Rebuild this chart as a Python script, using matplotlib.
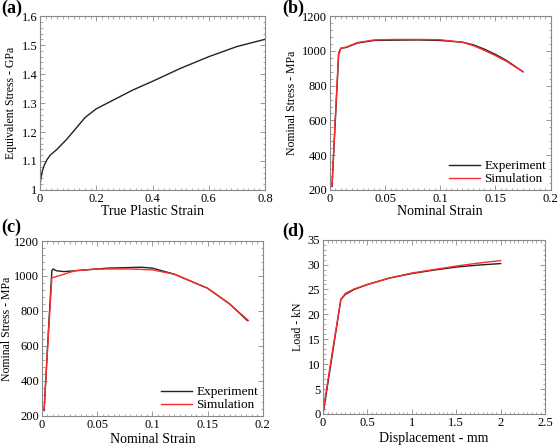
import matplotlib.pyplot as plt
from matplotlib.ticker import AutoMinorLocator

plt.rcParams['font.family'] = ['Liberation Serif', 'DejaVu Serif']

# (a) flow curve
a_strain = [0, 0.003, 0.008, 0.015, 0.025, 0.036, 0.06, 0.095, 0.13, 0.16, 0.2, 0.25, 0.33, 0.4, 0.5, 0.6, 0.7, 0.8]
a_stress = [1.015, 1.04, 1.065, 1.085, 1.105, 1.12, 1.14, 1.175, 1.215, 1.25, 1.28, 1.305, 1.345, 1.375, 1.42, 1.46, 1.495, 1.52]

# (b) nominal stress-strain
b_exp_x = [0.002, 0.005, 0.008, 0.01, 0.015, 0.025, 0.04, 0.06, 0.08, 0.1, 0.12, 0.13, 0.14, 0.15, 0.16, 0.175]
b_exp_y = [220, 600, 980, 1015, 1020, 1045, 1060, 1062, 1063, 1060, 1050, 1035, 1010, 980, 945, 880]
b_sim_x = [0.002, 0.005, 0.008, 0.01, 0.015, 0.025, 0.04, 0.06, 0.08, 0.1, 0.12, 0.13, 0.14, 0.15, 0.16, 0.175]
b_sim_y = [225, 620, 990, 1015, 1022, 1048, 1063, 1066, 1066, 1064, 1050, 1030, 1003, 973, 940, 880]

# (c) nominal stress-strain
c_exp_x = [0.002, 0.006, 0.009, 0.01, 0.013, 0.02, 0.03, 0.06, 0.09, 0.1, 0.12, 0.15, 0.17, 0.186]
c_exp_y = [230, 700, 1030, 1040, 1030, 1025, 1030, 1045, 1050, 1045, 1010, 930, 840, 745]
c_sim_x = [0.002, 0.006, 0.009, 0.015, 0.03, 0.05, 0.08, 0.1, 0.12, 0.15, 0.17, 0.187]
c_sim_y = [240, 680, 990, 1000, 1030, 1040, 1040, 1035, 1010, 930, 840, 745]

# (d) load-displacement
d_exp_x = [0, 0.1, 0.2, 0.25, 0.35, 0.5, 0.75, 1.0, 1.25, 1.5, 1.75, 2.0]
d_exp_y = [0, 11.5, 23, 24.0, 25.0, 26.0, 27.3, 28.2, 28.9, 29.5, 29.9, 30.2]
d_sim_x = [0, 0.1, 0.2, 0.25, 0.35, 0.5, 0.75, 1.0, 1.25, 1.5, 1.75, 2.0]
d_sim_y = [0.5, 12, 23, 24.2, 25.1, 26.0, 27.3, 28.3, 29.0, 29.7, 30.3, 30.8]

fig = plt.figure(figsize=(5.59, 4.48), dpi=100)
ax_a = fig.add_axes([0.0716, 0.576, 0.4025, 0.388])
ax_b = fig.add_axes([0.590, 0.576, 0.395, 0.388])
ax_c = fig.add_axes([0.075, 0.072, 0.395, 0.39])
ax_d = fig.add_axes([0.578, 0.076, 0.397, 0.389])

exp_c = '#222222'
sim_c = '#ff2a2a'

ax_a.plot(a_strain, a_stress, color=exp_c, lw=1)
ax_b.plot(b_exp_x, b_exp_y, color=exp_c, lw=1, label='Experiment')
ax_b.plot(b_sim_x, b_sim_y, color=sim_c, lw=1, label='Simulation')
ax_c.plot(c_exp_x, c_exp_y, color=exp_c, lw=1, label='Experiment')
ax_c.plot(c_sim_x, c_sim_y, color=sim_c, lw=1, label='Simulation')
ax_d.plot(d_exp_x, d_exp_y, color=exp_c, lw=1)
ax_d.plot(d_sim_x, d_sim_y, color=sim_c, lw=1)

ax_a.set_xlim(0, 0.8)
ax_a.set_ylim(1.0, 1.6)
ax_a.set_xticks([0, 0.2, 0.4, 0.6, 0.8], ['0', '0.2', '0.4', '0.6', '0.8'])
ax_a.set_yticks([1.0, 1.1, 1.2, 1.3, 1.4, 1.5, 1.6], ['1', '1.1', '1.2', '1.3', '1.4', '1.5', '1.6'])
ax_a.set_xlabel('True Plastic Strain')
ax_a.set_ylabel('Equivalent Stress - GPa')

for ax in (ax_b, ax_c):
    ax.set_xlim(0, 0.2)
    ax.set_ylim(200, 1200)
    ax.set_xticks([0, 0.05, 0.1, 0.15, 0.2], ['0', '0.05', '0.1', '0.15', '0.2'])
    ax.set_yticks([200, 400, 600, 800, 1000, 1200])
    ax.set_xlabel('Nominal Strain')
    ax.set_ylabel('Nominal Stress - MPa')
    ax.legend(loc='lower right', frameon=False, fontsize=9.5, handlelength=2.4,
              handletextpad=0.3, labelspacing=0.05, borderaxespad=0.15, borderpad=0.2)

ax_d.set_xlim(0, 2.5)
ax_d.set_ylim(0, 35)
ax_d.set_xticks([0, 0.5, 1, 1.5, 2, 2.5], ['0', '0.5', '1', '1.5', '2', '2.5'])
ax_d.set_yticks([0, 5, 10, 15, 20, 25, 30, 35])
ax_d.set_xlabel('Displacement - mm')
ax_d.set_ylabel('Load - kN')

for ax in (ax_a, ax_b, ax_c, ax_d):
    for s in ax.spines.values():
        s.set_color('#888888')
        s.set_linewidth(0.8)
    ax.xaxis.set_minor_locator(AutoMinorLocator(10))
    ax.yaxis.set_minor_locator(AutoMinorLocator(5))
    ax.tick_params(which='both', direction='in', top=True, right=True, color='#888888')
    ax.tick_params(which='major', length=3.5, width=0.6, labelsize=9, pad=2)
    ax.tick_params(which='minor', length=1.8, width=0.5)
    ax.xaxis.label.set_size(10)
    ax.yaxis.label.set_size(8.5)
    ax.yaxis.labelpad = 3
    ax.xaxis.labelpad = 2

ax_a.xaxis.labelpad = 0
ax_b.xaxis.labelpad = 0
ax_c.yaxis.labelpad = 1

fig.text(0.002, 0.982, '(a)', fontsize=13, fontweight='bold', va='center')
fig.text(0.505, 0.982, '(b)', fontsize=13, fontweight='bold', va='center')
fig.text(0.002, 0.492, '(c)', fontsize=13, fontweight='bold', va='center')
fig.text(0.505, 0.484, '(d)', fontsize=13, fontweight='bold', va='center')

fig.savefig('out.png', dpi=100)
